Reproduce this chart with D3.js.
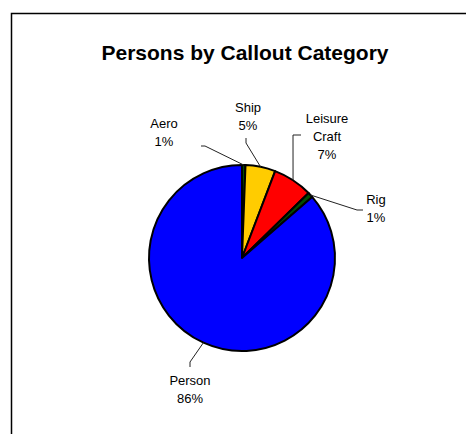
<!DOCTYPE html>
<html>
<head>
<meta charset="utf-8">
<script src="https://cdn.jsdelivr.net/npm/d3@7"></script>
<style>
  body { margin: 0; background: #fff; }
  svg { display: block; }
  text { font-family: "Liberation Sans", Arial, sans-serif; fill: #000; }
</style>
</head>
<body>
<svg width="466" height="434"></svg>
<script>
// data (persons per callout category)
var categories = ['Aero', 'Ship', 'Leisure Craft', 'Rig', 'Person'];
var persons = [6, 52, 69, 9, 864];
var colors = ['#004d00', '#ffcc00', '#ff0000', '#004d00', '#0000ff'];

// label lines (text broken the way the chart shows it)
var labelLines = [['Aero'], ['Ship'], ['Leisure', 'Craft'], ['Rig'], ['Person']];

// where each label sits, plus the elbow of its leader line
var labelPos = [
  { x: 164, y: 128, ex: 205, ey: 146, lx: 201, ly: 146 },
  { x: 248, y: 112, ex: 246, ey: 143, lx: 246, ly: 138 },
  { x: 327, y: 123, ex: 293, ey: 135, lx: 301, ly: 135 },
  { x: 376, y: 204, ex: 357, ey: 210, lx: 363, ly: 210 },
  { x: 190, y: 385, ex: 190, ey: 362, lx: 190, ly: 367 }
];

var svg = d3.select('svg');
var cx = 242, cy = 258, r = 93;

// frame (only top and left edge show in the picture)
svg.append('path')
  .attr('d', 'M11.5,434 L11.5,13.5 L466,13.5')
  .attr('fill', 'none')
  .attr('stroke', '#000')
  .attr('stroke-width', 1.5);

svg.append('text')
  .attr('x', 245)
  .attr('y', 60)
  .attr('text-anchor', 'middle')
  .style('font-size', '21px')
  .style('font-weight', 'bold')
  .text('Persons by Callout Category');

var total = d3.sum(persons);
var items = categories.map(function(c, i) {
  return { name: c, value: persons[i], color: colors[i], lines: labelLines[i], pos: labelPos[i] };
});

var pie = d3.pie().sort(null).value(function(d) { return d.value; });
var arc = d3.arc().innerRadius(0).outerRadius(r);
var arcs = pie(items);

var g = svg.append('g').attr('transform', 'translate(' + cx + ',' + cy + ')');

g.selectAll('path.slice')
  .data(arcs)
  .enter()
  .append('path')
  .attr('class', 'slice')
  .attr('d', arc)
  .attr('fill', function(d) { return d.data.color; })
  .attr('stroke', '#000')
  .attr('stroke-width', 2)
  .attr('stroke-linejoin', 'round');

// leader lines: from the arc at the slice middle to the label
svg.selectAll('polyline.leader')
  .data(arcs)
  .enter()
  .append('polyline')
  .attr('class', 'leader')
  .attr('points', function(d) {
    var a = (d.startAngle + d.endAngle) / 2;
    var px = cx + r * Math.sin(a), py = cy - r * Math.cos(a);
    var p = d.data.pos;
    return [px, py, p.ex, p.ey, p.lx, p.ly].join(',');
  })
  .attr('fill', 'none')
  .attr('stroke', '#222')
  .attr('stroke-width', 1);

var labels = svg.selectAll('text.lbl')
  .data(arcs)
  .enter()
  .append('text')
  .attr('class', 'lbl')
  .attr('text-anchor', 'middle')
  .style('font-size', '13px');

labels.each(function(d) {
  var t = d3.select(this);
  var lines = d.data.lines.concat([Math.round(d.data.value / total * 100) + '%']);
  lines.forEach(function(s, j) {
    t.append('tspan')
      .attr('x', d.data.pos.x)
      .attr('y', d.data.pos.y + j * 18)
      .text(s);
  });
});
</script>
</body>
</html>
